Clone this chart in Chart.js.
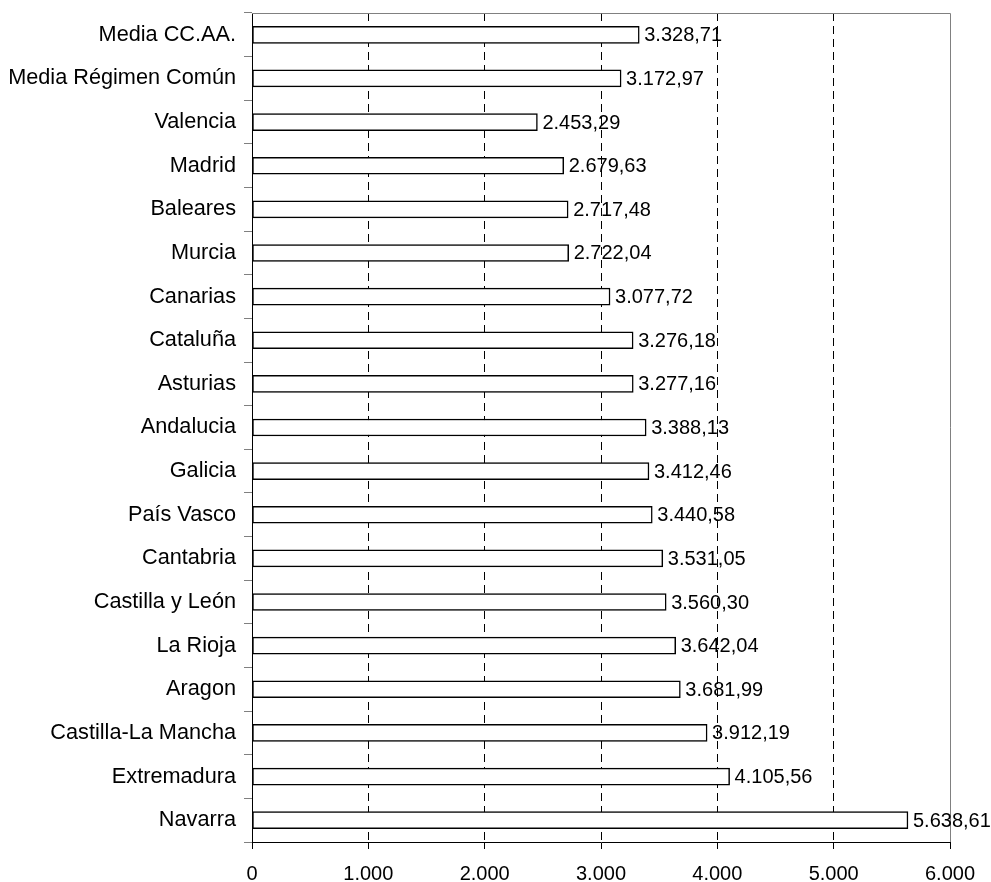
<!DOCTYPE html>
<html>
<head>
<meta charset="utf-8">
<script src="https://cdn.jsdelivr.net/npm/chart.js@4.4.1/dist/chart.umd.min.js"></script>
<style>
html,body{margin:0;padding:0;background:#fff;}
#wrap{width:991px;height:882px;position:relative;}
</style>
</head>
<body>
<div id="wrap"><canvas id="c" width="991" height="882"></canvas></div>
<script>
const categories = ["Media CC.AA.","Media Régimen Común","Valencia","Madrid","Baleares","Murcia","Canarias","Cataluña","Asturias","Andalucia","Galicia","País Vasco","Cantabria","Castilla y León","La Rioja","Aragon","Castilla-La Mancha","Extremadura","Navarra"];
const values = [3328.71,3172.97,2453.29,2679.63,2717.48,2722.04,3077.72,3276.18,3277.16,3388.13,3412.46,3440.58,3531.05,3560.30,3642.04,3681.99,3912.19,4105.56,5638.61];
const xTicks = [0,1000,2000,3000,4000,5000,6000];

function fmt(v, dec){
  const parts = v.toFixed(dec).split('.');
  parts[0] = parts[0].replace(/\B(?=(\d{3})+(?!\d))/g, '.');
  return parts.join(',');
}

const FONT = "'Liberation Sans', Arial, sans-serif";

const borderPlugin = {
  id: 'frame',
  afterDatasetsDraw(chart){
    const ctx = chart.ctx, a = chart.chartArea;
    ctx.save();
    ctx.strokeStyle = '#808080';
    ctx.lineWidth = 1;
    ctx.beginPath();
    ctx.moveTo(a.left, a.top + 0.5);
    ctx.lineTo(a.right + 0.5, a.top + 0.5);
    ctx.lineTo(a.right + 0.5, a.bottom);
    ctx.stroke();
    ctx.restore();
  },
  afterDraw(chart){
    const ctx = chart.ctx;
    const meta = chart.getDatasetMeta(0);
    ctx.save();
    ctx.fillStyle = '#000';
    ctx.font = "20px " + FONT;
    ctx.textAlign = 'left';
    ctx.textBaseline = 'middle';
    meta.data.forEach((bar, i) => {
      ctx.fillText(fmt(values[i], 2), bar.x + 5, bar.y + 1);
    });
    ctx.restore();
  }
};

new Chart(document.getElementById('c'), {
  type: 'bar',
  data: {
    labels: categories,
    datasets: [{
      data: values,
      backgroundColor: '#ffffff',
      borderColor: '#000000',
      borderWidth: 1.5,
      barThickness: 17,
      borderSkipped: false
    }]
  },
  options: {
    indexAxis: 'y',
    responsive: false,
    animation: false,
    devicePixelRatio: 1,
    layout: { padding: { top: 13, right: 41, left: 0, bottom: 0 } },
    plugins: { legend: { display: false }, tooltip: { enabled: false } },
    scales: {
      x: {
        min: 0, max: 6000,
        afterBuildTicks(scale){ scale.ticks = xTicks.map(v => ({value: v})); },
        afterFit(scale){ scale.height = 40; scale.paddingLeft = 0; scale.paddingRight = 0; },
        ticks: {
          color: '#000',
          font: { family: FONT, size: 20 },
          padding: 13,
          maxRotation: 0,
          callback: (v) => fmt(v, 0)
        },
        grid: {
          color: (c) => (c.tick && (c.tick.value === 0 || c.tick.value === 6000)) ? 'rgba(0,0,0,0)' : '#000',
          lineWidth: 1,
          tickLength: 7,
          tickColor: '#000',
          tickBorderDash: [],
          drawTicks: true
        },
        border: { display: true, color: '#000', width: 1, dash: [8, 5] }
      },
      y: {
        offset: true,
        afterFit(scale){ scale.width = 252; scale.paddingTop = 0; scale.paddingBottom = 0; },
        ticks: {
          color: '#000',
          font: { family: FONT, size: 21.7 },
          padding: 8
        },
        grid: {
          offset: true,
          drawOnChartArea: false,
          tickLength: 8,
          tickColor: '#808080',
          color: '#808080'
        },
        border: { display: true, color: '#000', width: 1 }
      }
    }
  },
  plugins: [borderPlugin]
});
</script>
</body>
</html>
